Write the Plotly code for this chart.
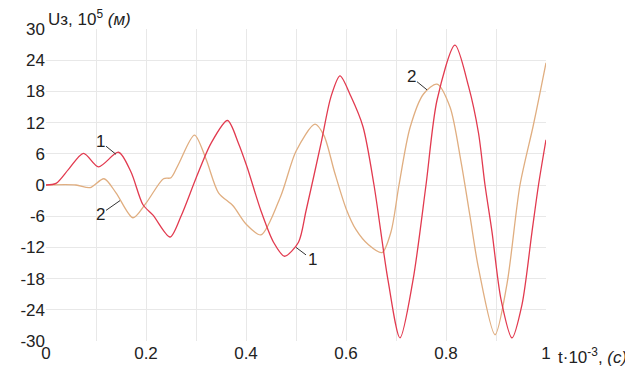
import plotly.graph_objects as go

# Curve 1 (red)
x1 = [0, 0.02, 0.045, 0.075, 0.105, 0.145, 0.17, 0.194, 0.214, 0.248, 0.27, 0.3, 0.33, 0.363,
      0.385, 0.402, 0.43, 0.455, 0.477, 0.505, 0.52, 0.55, 0.57, 0.588, 0.61, 0.634, 0.656, 0.684,
      0.708, 0.734, 0.76, 0.782, 0.818, 0.845, 0.865, 0.878, 0.892, 0.91, 0.932, 0.952, 0.972, 0.985, 1.0]
y1 = [0, 0.3, 3, 6.1, 3.5, 6.3, 2.5, -3.8, -5.8, -10, -6, 1.3, 8, 12.4,
      8, 3.5, -5, -11, -13.7, -11, -5, 8, 17, 21, 17, 11.2, 0, -18.3,
      -29.4, -18.3, 0, 16.3, 26.9, 19, 10, 0, -9, -22, -29.4, -23, -9, 0, 8.7]

# Curve 2 (tan)
x2 = [0, 0.06, 0.088, 0.116, 0.14, 0.174, 0.2, 0.235, 0.25, 0.265, 0.297, 0.32,
      0.345, 0.374, 0.4, 0.43, 0.47, 0.5, 0.538, 0.556, 0.577, 0.6, 0.62, 0.645, 0.672, 0.69, 0.706,
      0.728, 0.755, 0.782, 0.808, 0.83, 0.848, 0.865, 0.898, 0.922, 0.948, 0.974, 0.988, 1.0]
y2 = [0, 0, -0.5, 1.2, -1.5, -6.3, -3.5, 1.2, 1.4, 4, 9.6, 5,
      -1.5, -4, -7.5, -9.6, -2, 6.5, 11.7, 9.5, 2.5, -4.5, -8.6, -11.5, -13, -9, 0,
      11, 17.5, 19.4, 15, 4.5, -6, -16, -28.8, -19, 0, 11.2, 17.7, 23.5]

x_ticks = [0, 0.2, 0.4, 0.6, 0.8, 1]
x_tick_text = ["0", "0.2", "0.4", "0.6", "0.8", "1"]
y_ticks = [-30, -24, -18, -12, -6, 0, 6, 12, 18, 24, 30]
y_tick_text = ["-30", "-24", "-18", "-12", "-6", "0", "6", "12", "18", "24", "30"]

RED = "#e23a4f"
TAN = "#e0ae80"
FONT = "Liberation Sans, Arial, sans-serif"

fig = go.Figure()
fig.add_trace(go.Scatter(x=x2, y=y2, mode="lines", line=dict(color=TAN, width=1.3, shape="spline", smoothing=0.8),
                         showlegend=False, hoverinfo="skip"))
fig.add_trace(go.Scatter(x=x1, y=y1, mode="lines", line=dict(color=RED, width=1.3, shape="spline", smoothing=0.8),
                         showlegend=False, hoverinfo="skip"))

labels = [
    ("1", 0.14, 5.9, -16, -13),
    ("2", 0.148, -3.0, -20, 14),
    ("1", 0.5, -12.0, 16, 12),
    ("2", 0.762, 18.3, -16, -13),
]
for txt, x, y, ax, ay in labels:
    fig.add_annotation(x=x, y=y, text=txt, showarrow=True, arrowhead=0, arrowwidth=1, arrowcolor="#333",
                       ax=ax, ay=ay, font=dict(size=17, color="#222", family=FONT), standoff=0, startstandoff=0)

fig.add_annotation(xref="paper", yref="paper", x=0, y=1, xanchor="left", yanchor="bottom", xshift=0, yshift=-2,
                   text="Uз, 10<sup>5</sup> <i>(м)</i>", showarrow=False,
                   font=dict(size=17, color="#222", family=FONT))
fig.add_annotation(xref="paper", yref="paper", x=1, y=0, xanchor="left", yanchor="top", xshift=10, yshift=-2,
                   text="t·10<sup>-3</sup>, <i>(с)</i>", showarrow=False,
                   font=dict(size=17, color="#222", family=FONT))

fig.update_layout(
    width=625, height=359,
    margin=dict(l=38, r=87, t=21, b=26),
    paper_bgcolor="white", plot_bgcolor="white",
    font=dict(family=FONT, size=17, color="#222"),
    xaxis=dict(range=[0, 1], tickvals=x_ticks, ticktext=x_tick_text, showgrid=True, gridcolor="#e8e8e8",
               zeroline=False, showline=False, ticks="", automargin=False),
    yaxis=dict(range=[-30, 30], tickvals=y_ticks, ticktext=y_tick_text, showgrid=True, gridcolor="#e8e8e8",
               zeroline=False, showline=False, ticks="", automargin=False),
)
fig.update_xaxes(minor=dict(tickvals=[0.1, 0.3, 0.5, 0.7, 0.9], showgrid=True, gridcolor="#e8e8e8"))

fig.write_html("out.html")
